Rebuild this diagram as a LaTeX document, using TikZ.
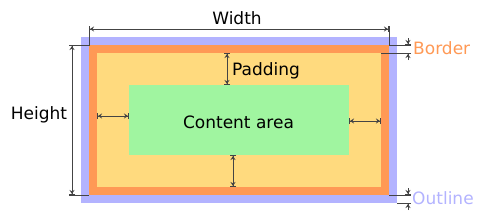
\documentclass[tikz,border=0pt]{standalone}
\usepackage{fontspec}
\setmainfont{DejaVu Sans}
\usetikzlibrary{arrows.meta, positioning, calc}
\definecolor{outlineLilac}{RGB}{179, 179, 255}
\definecolor{borderOrange}{RGB}{255, 153, 85}
\definecolor{paddingYellow}{RGB}{255, 218, 126}
\definecolor{contentGreen}{RGB}{160, 245, 160}
\definecolor{dimGray}{RGB}{68, 68, 68}

\begin{document}
\begin{tikzpicture}[
  x=1pt, y=-1pt,
  layer/.style={rectangle, draw=none, inner sep=0pt, outer sep=0pt},
  caption/.style={font=\fontsize{17pt}{20pt}\selectfont, inner sep=0pt, text=black},
  dim/.style={draw=dimGray, line width=1pt, {Bar[width=6pt]Stealth[length=4pt, width=5pt]}-{Stealth[length=4pt, width=5pt]Bar[width=6pt]}},
  pointer/.style={draw=dimGray, line width=1pt, -{Stealth[length=4pt, width=5pt]Bar[width=6pt]}},
  ext/.style={draw=dimGray, line width=1pt}
]
  \useasboundingbox (0,0) rectangle (479,214);

  % Box layers
  \node[layer, fill=outlineLilac, minimum width=316pt, minimum height=166pt] (outline) at (239,120) {};
  \node[layer, fill=borderOrange, minimum width=300pt, minimum height=150pt] (border) at (239,120) {};
  \node[layer, fill=paddingYellow, minimum width=284pt, minimum height=134pt] (padding) at (239,120) {};
  \node[layer, fill=contentGreen, minimum width=220pt, minimum height=70pt] (content) at (239,120) {};

  % Helper columns on the right
  \coordinate (tick) at ($(outline.east)+(14,0)$);
  \coordinate (ptr) at ($(outline.east)+(11,0)$);

  % Labels
  \node[caption, anchor=base] (widthlbl) at (237,24.5) {Width};
  \node[caption, anchor=base] (heightlbl) at (39,119) {Height};
  \node[caption, anchor=base west] (paddinglbl) at (232,75) {Padding};
  \node[caption, anchor=base] (contentlbl) at (238.5,128.3) {Content area};
  \node[caption, anchor=base west, text=borderOrange] (borderlbl) at (413,54) {Border};
  \node[caption, anchor=base west, text=outlineLilac] (outlinelbl) at (412,204) {Outline};

  % Extension lines
  \draw[ext] ($(border.north west)+(0,-19)$) -- (border.north west) -- ($(border.north west)+(-20,0)$);
  \draw[ext] ($(border.north east)+(0,-19)$) -- (border.north east) -- (border.north east -| tick);
  \draw[ext] (border.south west) -- ($(border.south west)+(-20,0)$);
  \draw[ext] (padding.north east) -- (padding.north east -| tick);
  \draw[ext] (border.south east) -- (border.south east -| tick);
  \draw[ext] (outline.south east) -- (outline.south east -| tick);

  % Dimensions
  \draw[dim] ($(border.north west)+(0,-16)$) -- ($(border.north east)+(0,-16)$);
  \draw[dim] ($(border.north west)+(-17,0)$) -- ($(border.south west)+(-17,0)$);
  \draw[dim] ($(padding.north)+(-12,0)$) -- ($(content.north)+(-12,0)$);
  \draw[dim] ($(content.south)+(-6,0)$) -- ($(padding.south)+(-6,0)$);
  \draw[dim] ($(padding.west)+(0,-4)$) -- ($(content.west)+(0,-4)$);
  \draw[dim] ($(content.east)+(0,1)$) -- ($(padding.east)+(0,1)$);

  % Border and outline pointers
  \draw[pointer] ($(border.north east -| ptr)+(0,-7)$) -- (border.north east -| ptr);
  \draw[pointer] ($(padding.north east -| ptr)+(0,7)$) -- (padding.north east -| ptr);
  \draw[pointer] ($(border.south east -| ptr)+(0,-7)$) -- (border.south east -| ptr);
  \draw[pointer] ($(outline.south east -| ptr)+(0,7)$) -- (outline.south east -| ptr);

\end{tikzpicture}
\end{document}
